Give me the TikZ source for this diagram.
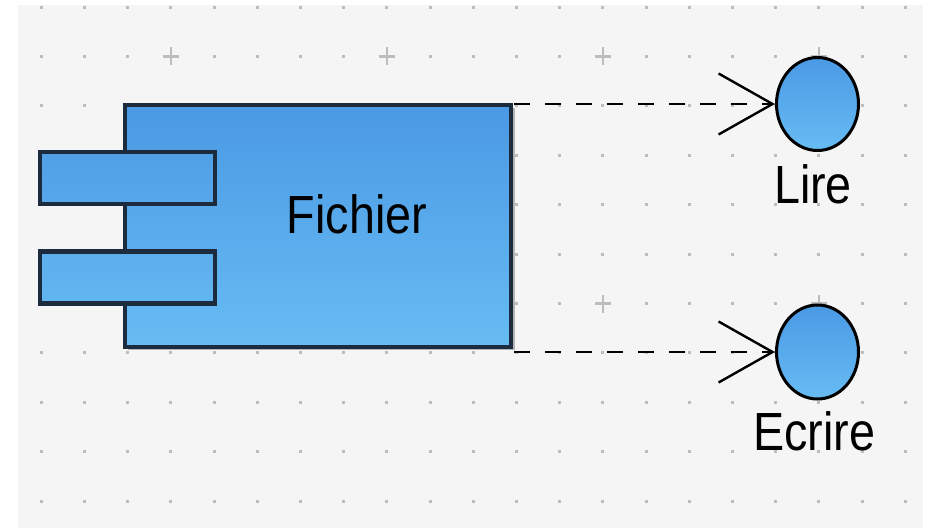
\documentclass[tikz,border=0pt]{standalone}
\usepackage{fontspec}
\setmainfont{Liberation Sans}
\usetikzlibrary{shapes.geometric,arrows.meta}
\definecolor{bgc}{HTML}{F5F5F5}
\definecolor{griddot}{HTML}{BDBDBD}
\definecolor{edgec}{HTML}{1C2C3E}
\definecolor{shadowc}{HTML}{B4B4B4}
\definecolor{ctop}{RGB}{74,153,228}
\definecolor{cbot}{RGB}{103,188,243}
\definecolor{pAt}{RGB}{80,160,231}
\definecolor{pAb}{RGB}{86,167,234}
\definecolor{pBt}{RGB}{92,174,237}
\definecolor{pBb}{RGB}{98,182,240}
\tikzset{
  compbox/.style={rectangle, draw=edgec, line width=3.8pt, inner sep=0pt,
    top color=ctop, bottom color=cbot, minimum width=386pt, minimum height=242pt},
  portbox/.style={rectangle, draw=edgec, line width=4.5pt, inner sep=0pt,
    minimum width=175pt, minimum height=52pt},
  iface/.style={ellipse, draw=black, line width=3pt, inner sep=0pt,
    top color=ctop, bottom color=cbot, minimum width=82pt, minimum height=93pt},
  lbl/.style={inner sep=0pt, font=\fontsize{46.7}{50}\selectfont, text=black},
  dep/.style={line width=2.4pt, draw=black, dash pattern=on 16pt off 15pt,
    -{Straight Barb[length=54pt, width=61pt, line width=2.4pt]}},
}
\begin{document}
\begin{tikzpicture}[x=1pt,y=-1pt]
\useasboundingbox (0,0) rectangle (931,528);
\fill[white] (0,0) rectangle (931,528);
\fill[bgc] (18,5) rectangle (923,528);
% grid
\foreach \j in {0,...,10}{
  \foreach \k in {0,...,20}{
    \pgfmathsetmacro\gx{41.3+43.2*\k}
    \pgfmathsetmacro\gy{7+49.42*\j}
    \pgfmathtruncatemacro\ismaj{((\j==1)||(\j==6))&&(mod(\k,5)==3)}
    \ifnum\ismaj=1
      \draw[griddot, line width=2.5pt] (\gx-8,\gy) -- (\gx+8,\gy) (\gx,\gy-9) -- (\gx,\gy+9);
    \else
      \fill[griddot] (\gx-1.5,\gy-1.5) rectangle (\gx+1.5,\gy+1.5);
    \fi
  }
}
% component
\fill[shadowc] (128,108) rectangle (515,350);
\node[compbox] (fichier) at (318,226) {};
\node[portbox, top color=pAt, bottom color=pAb] (port1) at (127.5,178) {};
\node[portbox, top color=pBt, bottom color=pBb] (port2) at (127.5,277.5) {};
\node[lbl, anchor=base] (fichiertxt) at (357,233.3) {\scalebox{1}[1.15]{Fichier}};
% interfaces
\node[iface] (lire) at (817.5,104) {};
\node[iface, minimum height=94pt] (ecrire) at (817.5,352) {};
\node[lbl, anchor=base] (lirelbl) at (813,203) {\scalebox{1}[1.15]{Lire}};
\node[lbl, anchor=base] (ecrirelbl) at (814,450) {\scalebox{1}[1.15]{Ecrire}};
% connectors
\coordinate (s1) at (514,104);
\coordinate (s2) at (514,352);
\draw[dep] (s1) -- (lire.west);
\draw[dep] (s2) -- (ecrire.west);
\end{tikzpicture}
\end{document}
